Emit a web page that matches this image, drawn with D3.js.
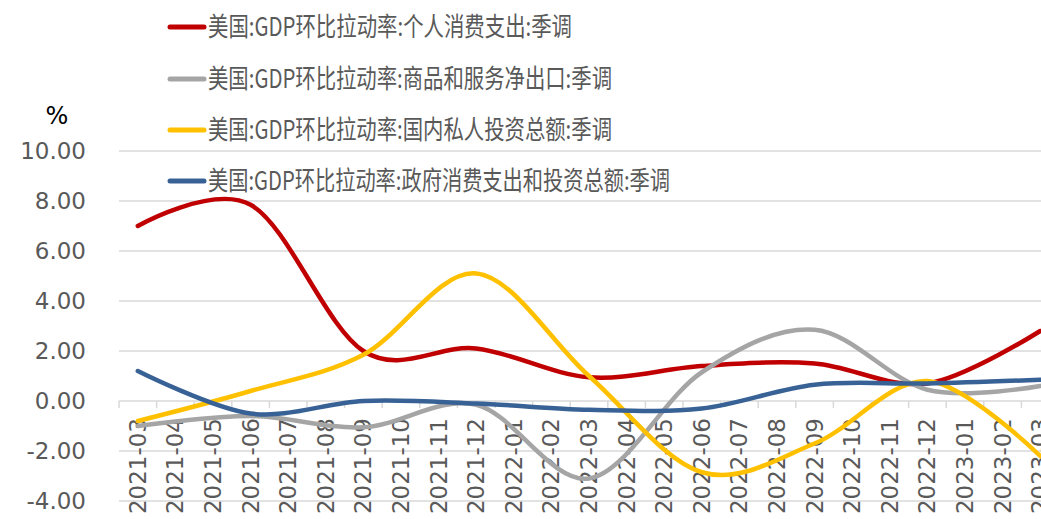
<!DOCTYPE html>
<html>
<head>
<meta charset="utf-8">
<script src="https://cdn.jsdelivr.net/npm/d3@7"></script>
<style>
  body { margin: 0; background: #fff; }
  svg { display: block; overflow: hidden; }
</style>
</head>
<body>
<svg id="chart" width="1041" height="519"></svg>
<script>
// monthly category axis
var months = ["2021-03","2021-04","2021-05","2021-06","2021-07","2021-08","2021-09",
  "2021-10","2021-11","2021-12","2022-01","2022-02","2022-03","2022-04","2022-05",
  "2022-06","2022-07","2022-08","2022-09","2022-10","2022-11","2022-12","2023-01",
  "2023-02","2023-03"];

// quarterly observations
var quarters = ["2021-03","2021-06","2021-09","2021-12","2022-03","2022-06","2022-09","2022-12","2023-03"];

var consumption = [7.0, 7.85, 2.0, 2.1, 0.95, 1.4, 1.5, 0.7, 2.8];
var netExports  = [-1.0, -0.6, -1.05, -0.15, -3.1, 1.15, 2.85, 0.45, 0.6];
var investment  = [-0.8, 0.4, 1.85, 5.1, 1.0, -2.85, -1.7, 0.8, -2.2];
var government  = [1.2, -0.5, 0.0, -0.1, -0.35, -0.3, 0.65, 0.7, 0.85];

var seriesNames = [
  "美国:GDP环比拉动率:个人消费支出:季调",
  "美国:GDP环比拉动率:商品和服务净出口:季调",
  "美国:GDP环比拉动率:国内私人投资总额:季调",
  "美国:GDP环比拉动率:政府消费支出和投资总额:季调"
];
var yTicks = [-4, -2, 0, 2, 4, 6, 8, 10];

var series = [
  {name: seriesNames[0], values: consumption, color: "#C00000", textW: 364},
  {name: seriesNames[1], values: netExports,  color: "#A5A5A5", textW: 404},
  {name: seriesNames[2], values: investment,  color: "#FFC000", textW: 404},
  {name: seriesNames[3], values: government,  color: "#386295", textW: 462}
];

var svg = d3.select("#chart");
var left = 119, step = 37.6;

var x = d3.scaleBand().domain(months).range([left, left + step * months.length]);
var y = d3.scaleLinear().domain([-4, 10]).range([501, 151]);

// gridlines
svg.append("g").selectAll("line").data(yTicks).enter().append("line")
  .attr("x1", left).attr("x2", 1041)
  .attr("y1", d => y(d)).attr("y2", d => y(d))
  .attr("stroke", "#D9D9D9").attr("stroke-width", 1.5);

// y labels (plain hyphen like the original)
svg.append("g").selectAll("text").data(yTicks).enter().append("text")
  .attr("x", 86).attr("y", d => y(d) + 8)
  .attr("text-anchor", "end")
  .style("font-family", "DejaVu Sans").style("font-size", "23px")
  .style("fill", "#595959")
  .text(d => d3.format(".2f")(d).replace("\u2212", "-"));

svg.append("text").attr("x", 57).attr("y", 124).attr("text-anchor", "middle")
  .style("font-family", "DejaVu Sans").style("font-size", "24px").style("fill", "#000")
  .text("%");

// x axis ticks at category edges
var edges = months.map(m => x(m)).concat([x.range()[1]]);
svg.append("g").selectAll("line").data(edges).enter().append("line")
  .attr("x1", d => d).attr("x2", d => d)
  .attr("y1", y(0)).attr("y2", y(0) + 7)
  .attr("stroke", "#D9D9D9").attr("stroke-width", 1.5);

svg.append("g").selectAll("text").data(months).enter().append("text")
  .attr("transform", d => "translate(" + (x(d) + x.bandwidth() / 2 + 8) + "," + (y(0) + 17) + ") rotate(-90)")
  .attr("text-anchor", "end")
  .style("font-family", "DejaVu Sans").style("font-size", "23px")
  .style("fill", "#595959")
  .text(d => d);

// lines
var line = d3.line()
  .x((d, i) => x(quarters[i]) + x.bandwidth() / 2)
  .y(d => y(d))
  .curve(d3.curveCardinal.tension(0));

series.forEach(function(s) {
  svg.append("path")
    .datum(s.values)
    .attr("d", line)
    .attr("fill", "none")
    .attr("stroke", s.color)
    .attr("stroke-width", 4.5)
    .attr("stroke-linecap", "round")
    .attr("stroke-linejoin", "round");
});

// legend
var legendY = [27, 79, 130, 181];
series.forEach(function(s, i) {
  var g = svg.append("g").attr("transform", "translate(0," + legendY[i] + ")");
  g.append("line").attr("x1", 170).attr("x2", 204).attr("y1", 0).attr("y2", 0)
    .attr("stroke", s.color).attr("stroke-width", 5).attr("stroke-linecap", "round");
  g.append("text").attr("x", 208).attr("y", 9)
    .attr("textLength", s.textW).attr("lengthAdjust", "spacingAndGlyphs")
    .style("font-family", "'Noto Sans CJK SC'").style("font-size", "26px")
    .style("fill", "#595959")
    .text(s.name);
});
</script>
</body>
</html>
